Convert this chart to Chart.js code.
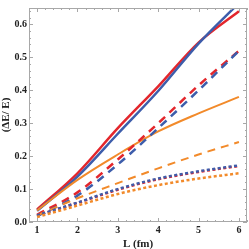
<!DOCTYPE html>
<html><head><meta charset="utf-8">
<script src="https://cdn.jsdelivr.net/npm/chart.js"></script>
<style>html,body{margin:0;padding:0;background:#fff}#w{width:249px;height:249px}</style>
</head><body><div id="w"><canvas id="c"></canvas></div>
<script>
const xs = [1, 2, 3, 4, 5, 6];
const blueSolid   = [0.034, 0.138, 0.268, 0.398, 0.542, 0.665];
const redSolid    = [0.038, 0.148, 0.285, 0.412, 0.545, 0.640];
const blueDashed  = [0.018, 0.080, 0.175, 0.285, 0.400, 0.520];
const redDashed   = [0.022, 0.090, 0.190, 0.300, 0.415, 0.520];
const orangeSolid = [0.035, 0.128, 0.205, 0.275, 0.330, 0.380];
const orangeDashed= [0.020, 0.072, 0.118, 0.163, 0.205, 0.243];
const blueDotted  = [0.020, 0.059, 0.100, 0.132, 0.154, 0.172];
const redDotted   = [0.020, 0.058, 0.098, 0.130, 0.152, 0.170];
const orangeDotted= [0.015, 0.050, 0.085, 0.112, 0.132, 0.148];
const xTicks = [1, 2, 3, 4, 5, 6];
const yTicks = [0.0, 0.1, 0.2, 0.3, 0.4, 0.5, 0.6];

const BLUE = '#3d5dab', RED = '#e3262c', ORANGE = '#f28a2a';
const pts = arr => arr.map((v, i) => ({x: xs[i], y: v}));
const ds = (arr, color, dash, w) => ({data: pts(arr), borderColor: color, borderWidth: w, borderDash: dash, pointRadius: 0, fill: false, cubicInterpolationMode: 'monotone'});

const tickPlugin = {
  id: 'frameTicks',
  afterDraw(chart) {
    const {ctx, chartArea: a, scales: {x, y}} = chart;
    ctx.save();
    ctx.strokeStyle = '#a8a8a8';
    ctx.lineWidth = 1;
    ctx.strokeRect(a.left + 0.5, a.top + 0.5, a.right - a.left - 1, a.bottom - a.top - 1);
    ctx.beginPath();
    for (let v = 0.8; v <= 6.21; v += 0.2) {
      const px = Math.round(x.getPixelForValue(v)) + 0.5;
      const major = Math.abs(v - Math.round(v)) < 1e-6;
      const L = major ? 4 : 2;
      ctx.moveTo(px, a.bottom); ctx.lineTo(px, a.bottom - L);
      ctx.moveTo(px, a.top); ctx.lineTo(px, a.top + L);
    }
    for (let v = 0; v <= 0.651; v += 0.02) {
      const py = Math.round(y.getPixelForValue(v)) + 0.5;
      const major = Math.abs(v * 10 - Math.round(v * 10)) < 1e-6;
      const L = major ? 4 : 2;
      ctx.moveTo(a.left, py); ctx.lineTo(a.left + L, py);
      ctx.moveTo(a.right, py); ctx.lineTo(a.right - L, py);
    }
    ctx.stroke();
    ctx.restore();
  }
};

const fam = '"Liberation Serif", "DejaVu Serif", serif';
const tickFont = {family: fam, size: 10, weight: 'bold'};
const titleFont = {family: fam, size: 11, weight: 'bold', lineHeight: 0.8};
new Chart(document.getElementById('c'), {
  type: 'line',
  data: {datasets: [
    ds(orangeDotted, ORANGE, [3, 2.5], 2.5),
    ds(blueDotted, BLUE, [3, 2.5], 2.5),
    ds(redDotted, RED, [3, 2.5], 2.5),
    ds(orangeDashed, ORANGE, [8, 6], 2),
    ds(blueDashed, BLUE, [8, 6], 2.5),
    ds(redDashed, RED, [8, 6], 2.5),
    ds(orangeSolid, ORANGE, [], 2),
    ds(blueSolid, BLUE, [], 2.5),
    ds(redSolid, RED, [], 2.5)
  ]},
  options: {
    responsive: true, maintainAspectRatio: false, animation: false,
    layout: {padding: {top: 4, right: 2, left: 0, bottom: 0}},
    plugins: {legend: {display: false}, tooltip: {enabled: false}},
    scales: {
      x: {type: 'linear', min: 0.8, max: 6.2,
        afterBuildTicks: s => { s.ticks = xTicks.map(v => ({value: v})); },
        afterFit: s => { s.height = 27; },
        grid: {display: false, drawTicks: false}, border: {display: false},
        ticks: {font: tickFont, color: '#222', padding: 2, maxRotation: 0, callback: v => String(v)},
        title: {display: true, text: 'L (fm)', font: titleFont, color: '#222', padding: {top: 0, bottom: 0}}
      },
      y: {type: 'linear', min: 0, max: 0.65,
        afterBuildTicks: s => { s.ticks = yTicks.map(v => ({value: v})); },
        afterFit: s => { s.width = 29; },
        grid: {display: false, drawTicks: false}, border: {display: false},
        ticks: {font: tickFont, color: '#222', padding: 2, callback: v => Number(v).toFixed(1)},
        title: {display: true, text: '(ΔE/ E)', font: {family: fam, size: 11, weight: 'bold', lineHeight: 1.2}, color: '#222', padding: {top: 0, bottom: 0}}
      }
    }
  },
  plugins: [tickPlugin]
});
</script></body></html>
